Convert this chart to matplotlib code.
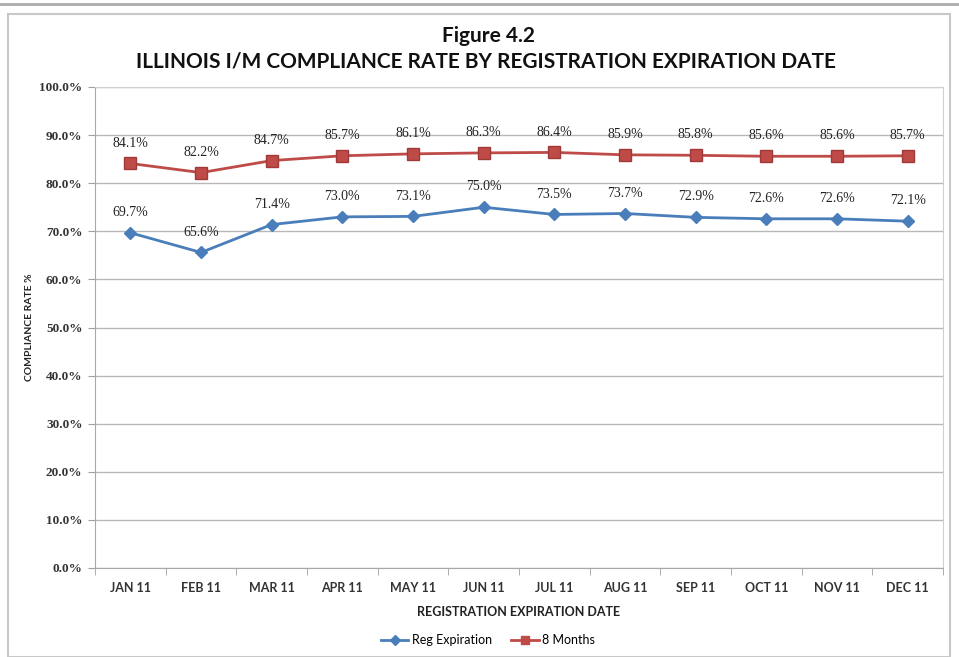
import matplotlib
matplotlib.use("Agg")
import matplotlib.pyplot as plt
from matplotlib.lines import Line2D
from matplotlib.patches import Rectangle
import numpy as np

months = ["JAN 11", "FEB 11", "MAR 11", "APR 11", "MAY 11", "JUN 11",
          "JUL 11", "AUG 11", "SEP 11", "OCT 11", "NOV 11", "DEC 11"]
reg_expiration = [69.7, 65.6, 71.4, 73.0, 73.1, 75.0, 73.5, 73.7, 72.9, 72.6, 72.6, 72.1]
eight_months = [84.1, 82.2, 84.7, 85.7, 86.1, 86.3, 86.4, 85.9, 85.8, 85.6, 85.6, 85.7]
y_ticks = [0, 10, 20, 30, 40, 50, 60, 70, 80, 90, 100]

blue = "#4a7ebb"
red = "#be4b48"
sans = ["Lato", "DejaVu Sans"]
serif = ["Liberation Serif", "DejaVu Serif"]

fig = plt.figure(figsize=(9.59, 6.57), dpi=100)
fig.patch.set_facecolor("white")
# outer frame
fig.patches.append(Rectangle((8/959, 0), (950-8)/959, 1 - 14/657, transform=fig.transFigure,
                             fill=False, edgecolor="#c8c8c8", linewidth=1.5))
fig.patches.append(Rectangle((0, 1 - 6/657), 1, 3/657, transform=fig.transFigure,
                             color="#b0b0b0", linewidth=0))

ax = fig.add_axes([95/959, 1 - 568/657, (943-95)/959, (568-87)/657])
x = np.arange(len(months))
ax.plot(x, reg_expiration, color=blue, lw=2, marker="D", ms=6, mfc=blue, mec=blue, zorder=3)
ax.plot(x, eight_months, color=red, lw=2, marker="s", ms=8.5, mfc=red, mec="#a03a38", zorder=3)

for xi, v in zip(x, reg_expiration):
    ax.annotate(f"{v:.1f}%", (xi, v), xytext=(0, 10), textcoords="offset points",
                ha="center", va="bottom", fontsize=10, family=serif, color="#222222")
for xi, v in zip(x, eight_months):
    ax.annotate(f"{v:.1f}%", (xi, v), xytext=(0, 10), textcoords="offset points",
                ha="center", va="bottom", fontsize=10, family=serif, color="#222222")

ax.set_xlim(-0.5, len(months) - 0.5)
ax.set_ylim(0, 100)
ax.set_yticks(y_ticks)
ax.set_yticklabels([f"{t:.1f}%" for t in y_ticks], family=serif, fontsize=9.5, fontweight="bold",
                   color="#333333")
ax.set_xticks(x)
ax.set_xticklabels(months, family=sans, fontsize=9, fontweight="bold", color="#333333")
ax.set_xticks(np.arange(-0.5, len(months), 1), minor=True)
ax.tick_params(axis="x", which="major", length=0, pad=10)
ax.tick_params(axis="x", which="minor", length=5, color="#a0a0a0")
ax.tick_params(axis="y", length=5, color="#a0a0a0", pad=4)
ax.grid(axis="y", color="#b8b8b8", lw=1)
ax.set_axisbelow(True)
for s in ["left", "bottom", "right", "top"]:
    ax.spines[s].set_color("#a8a8a8")
ax.spines["right"].set_color("#d0d0d0")
ax.spines["top"].set_color("#d0d0d0")

ax.set_xlabel("REGISTRATION EXPIRATION DATE", family=sans, fontsize=9, fontweight="bold",
              labelpad=9, color="#222222")
fig.text(30/959, 1 - 327/657, "COMPLIANCE RATE %", rotation=90, ha="center", va="center",
         family=sans, fontsize=7.5, fontweight="bold", color="#222222")

fig.text(488/959, 1 - 36/657, "Figure 4.2", ha="center", va="center", family=sans,
         fontsize=15, fontweight="bold", color="#111111")
fig.text(486/959, 1 - 62/657, "ILLINOIS I/M COMPLIANCE RATE BY REGISTRATION EXPIRATION DATE",
         ha="center", va="center", family=sans, fontsize=15, fontweight="bold", color="#111111")

handles = [Line2D([], [], color=blue, lw=2, marker="D", ms=5, mfc=blue),
           Line2D([], [], color=red, lw=2, marker="s", ms=6, mfc=red)]
fig.legend(handles, ["Reg Expiration", "8 Months"], loc="center", bbox_to_anchor=(488/959, 1 - 640/657),
           ncol=2, frameon=False, prop={"family": sans, "size": 9}, handlelength=2.2,
           columnspacing=1.5, handletextpad=0.3)

fig.savefig("out.png", dpi=100, facecolor="white")
